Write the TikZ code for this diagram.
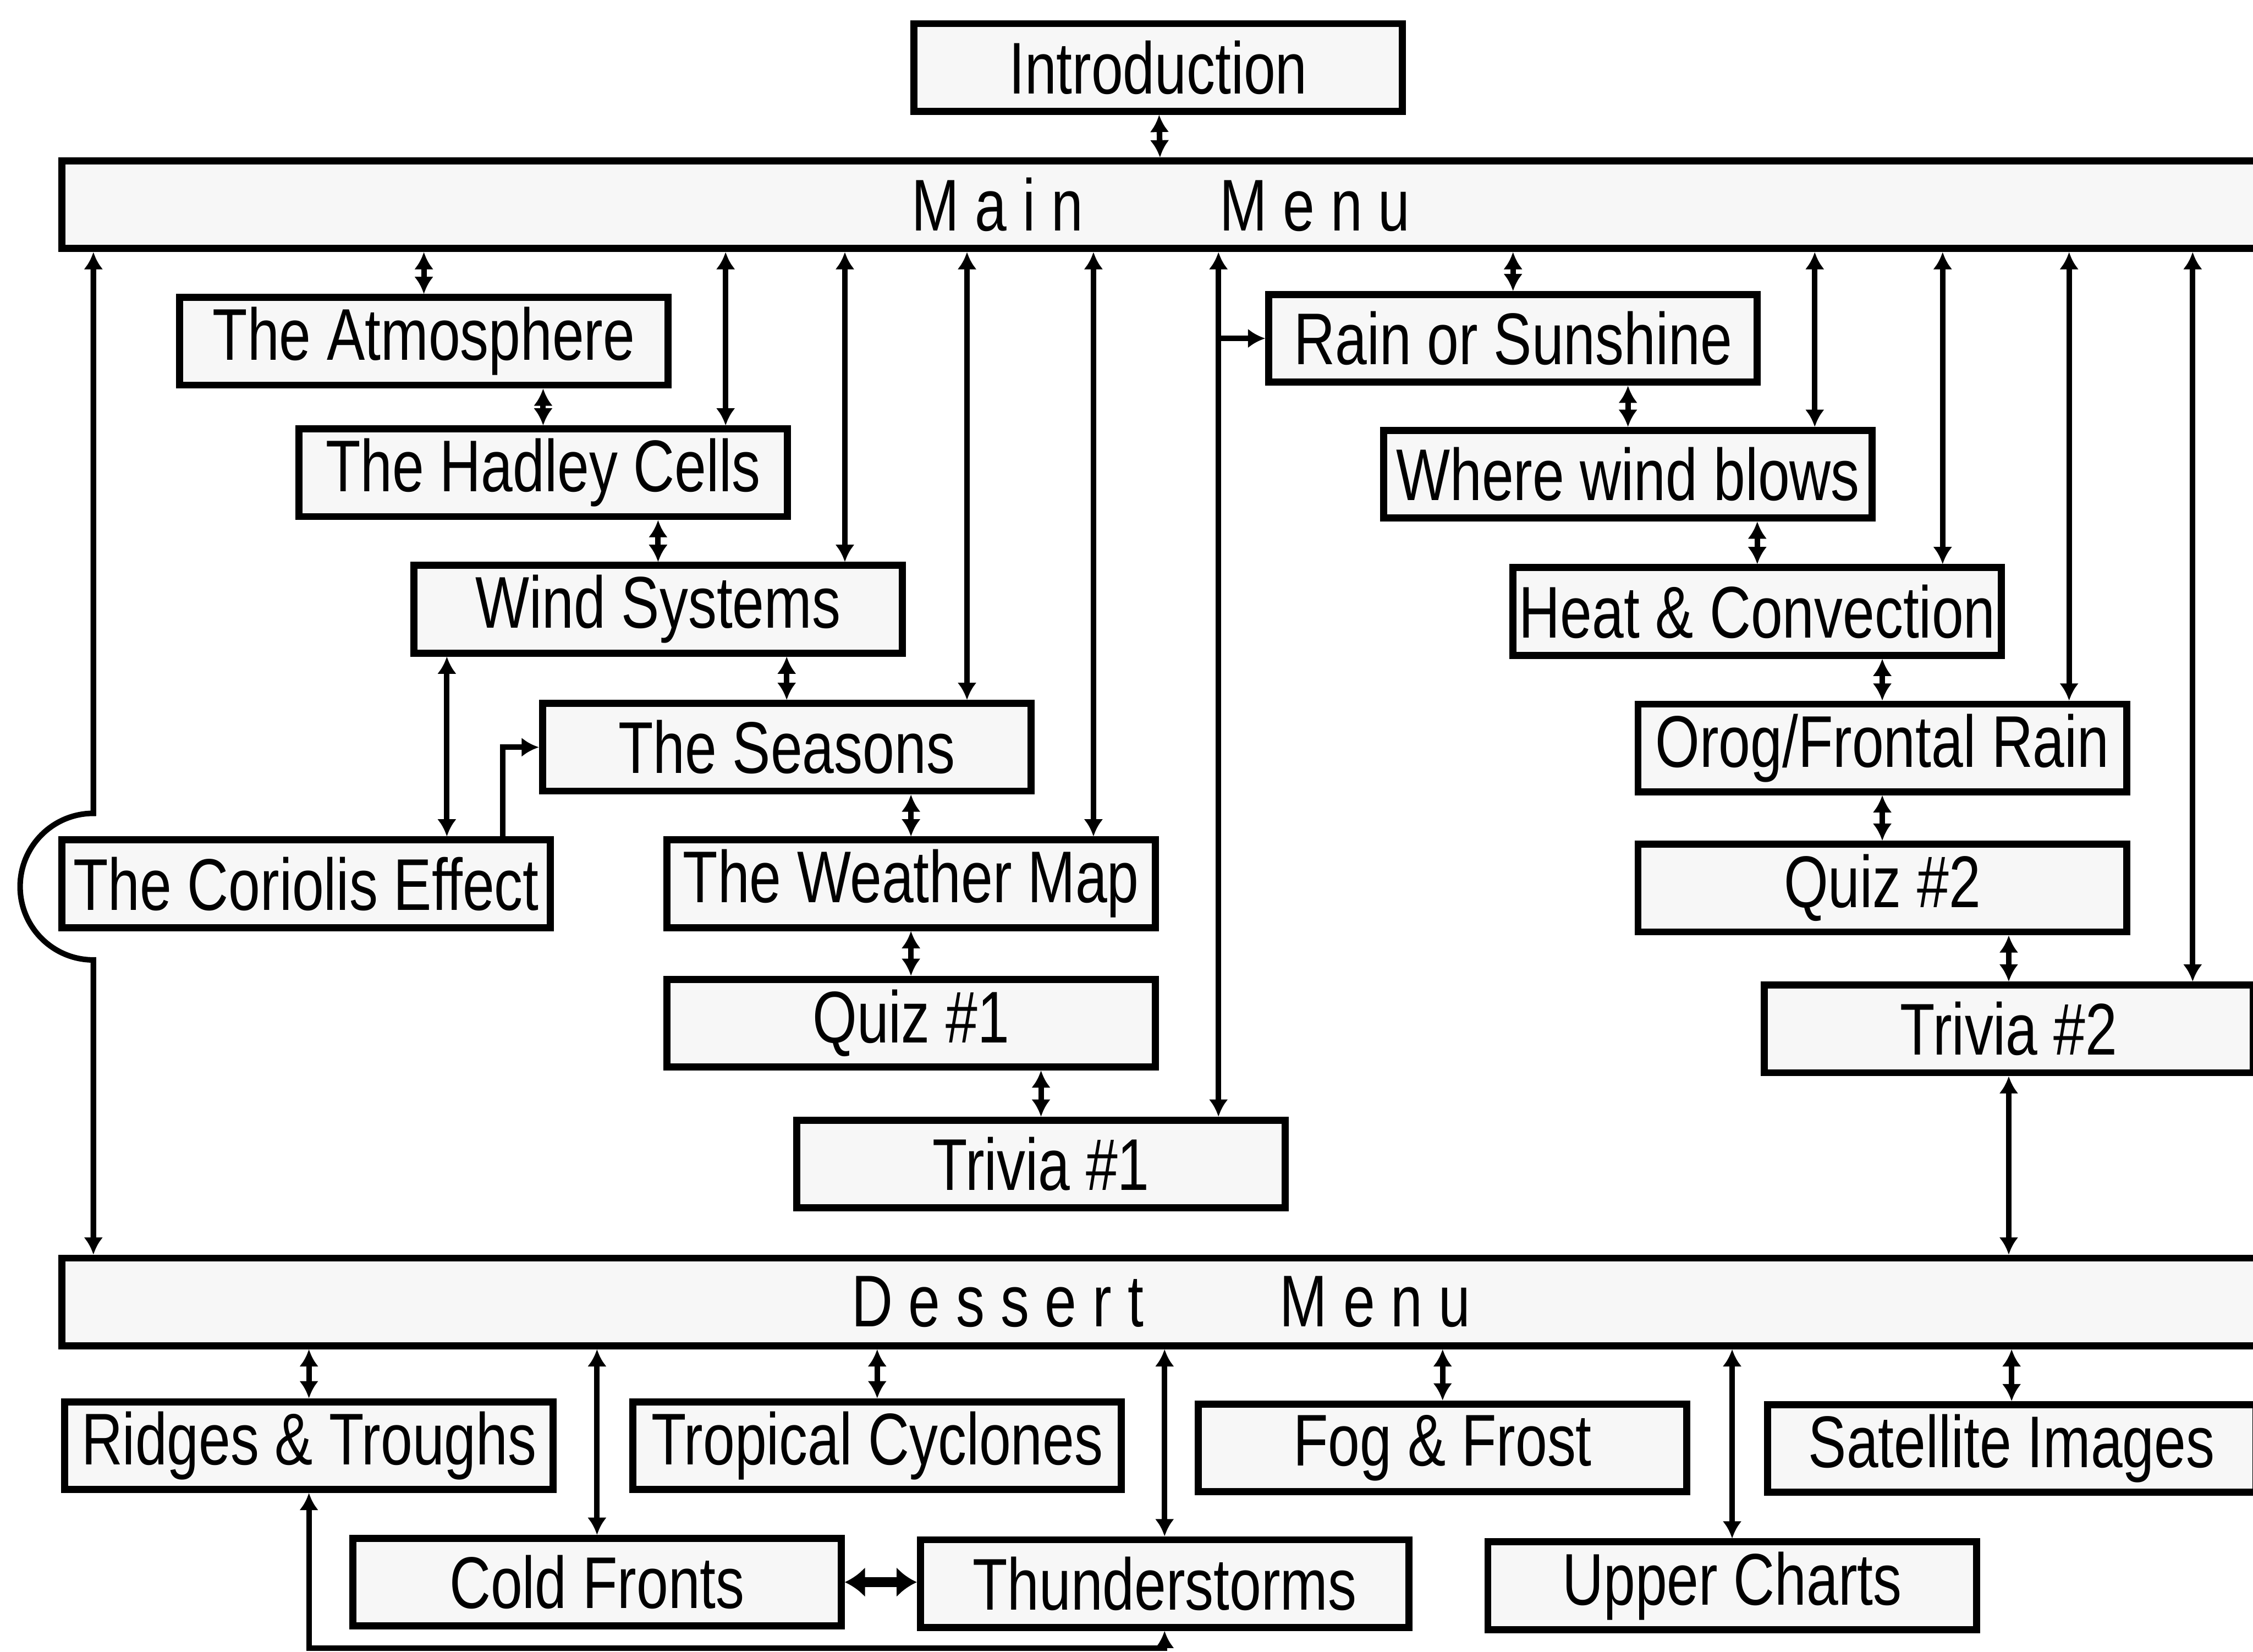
\documentclass[tikz,border=0pt]{standalone}
\usepackage{fontspec}
\setmainfont{Liberation Sans}[FakeStretch=0.78]
\usetikzlibrary{arrows.meta}

\tikzset{
  topic/.style={draw=black, line width=1.4pt, fill=black!3, minimum width=34mm, minimum height=6.1mm,
    inner xsep=0pt, inner ysep=0pt, font=\fontsize{14.5}{16}\selectfont},
  menubar/.style={topic, minimum width=153mm},
  link/.style={line width=1.1pt, {Latex[length=3.4pt,width=3.8pt]}-{Latex[length=3.4pt,width=3.8pt]}},
  oneway/.style={line width=1.1pt, -{Latex[length=3.4pt,width=3.8pt]}},
}

\begin{document}
\begin{tikzpicture}[x=0.1mm,y=-0.1mm]
\useasboundingbox (0,0) rectangle (1568,1149.6);
\fill[white] (0,0) rectangle (1568,1149.6);
\clip (0,0) rectangle (1568,1149.6);

\node[topic] (intro) at (806,47) {Introduction};
\node[menubar] (main) at (808,142.5) {M a i n\hspace{9.5mm}M e n u};

\node[topic] (atmos) at (295,237.5) {The Atmosphere};
\node[topic] (hadley) at (378,329) {The Hadley Cells};
\node[topic] (wind) at (458,424) {Wind Systems};
\node[topic] (seasons) at (547.5,520) {The Seasons};
\node[topic] (coriolis) at (213,615) {The Coriolis Effect};
\node[topic] (weather) at (634,615) {The Weather Map};
\node[topic] (quiz1) at (634,712) {Quiz \#1};
\node[topic] (trivia1) at (724.5,810) {Trivia \#1};

\node[topic] (rain) at (1053,235.5) {Rain or Sunshine};
\node[topic] (where) at (1133,330) {Where wind blows};
\node[topic] (heat) at (1223,425.5) {Heat \& Convection};
\node[topic] (orog) at (1310,520.5) {Orog/Frontal Rain};
\node[topic] (quiz2) at (1310,618) {Quiz \#2};
\node[topic] (trivia2) at (1398,716) {Trivia \#2};

\node[menubar] (dessert) at (808,906) {D e s s e r t\hspace{9.5mm}M e n u};

\node[topic] (ridges) at (215,1006) {Ridges \& Troughs};
\node[topic] (tropical) at (610.5,1006) {Tropical Cyclones};
\node[topic] (fog) at (1004,1007.5) {Fog \& Frost};
\node[topic] (satellite) at (1400,1008) {Satellite Images};
\node[topic] (cold) at (415.5,1101) {Cold Fronts};
\node[topic] (thunder) at (810.5,1102) {Thunderstorms};
\node[topic] (upper) at (1205.5,1103.5) {Upper Charts};

\draw[link] (intro) -- (main);

\draw[link] (main.south -| 65,0) -- (65,566) arc[start angle=90, end angle=270, radius=5.1mm]
  -- (dessert.north -| 65,0);
\draw[link] (main.south -| atmos.north) -- (atmos.north);
\draw[link] (main.south -| 505,0) -- (hadley.north -| 505,0);
\draw[link] (main.south -| 588,0) -- (wind.north -| 588,0);
\draw[link] (main.south -| 673,0) -- (seasons.north -| 673,0);
\draw[link] (main.south -| 761,0) -- (weather.north -| 761,0);
\draw[link] (main.south -| 848,0) -- (trivia1.north -| 848,0);
\draw[oneway] (rain.west -| 848,0) -- (rain.west);
\draw[link] (main.south -| rain.north) -- (rain.north);
\draw[link] (main.south -| 1263,0) -- (where.north -| 1263,0);
\draw[link] (main.south -| 1352,0) -- (heat.north -| 1352,0);
\draw[link] (main.south -| 1440,0) -- (orog.north -| 1440,0);
\draw[link] (main.south -| 1526,0) -- (trivia2.north -| 1526,0);

\draw[link] (atmos.south -| hadley.north) -- (hadley.north);
\draw[link] (hadley.south -| wind.north) -- (wind.north);
\draw[link] (wind.south -| seasons.north) -- (seasons.north);
\draw[link] (seasons.south -| weather.north) -- (weather.north);
\draw[link] (weather) -- (quiz1);
\draw[link] (quiz1.south -| trivia1.north) -- (trivia1.north);
\draw[link] (wind.south -| 311,0) -- (coriolis.north -| 311,0);
\draw[oneway] (coriolis.north -| 350,0) |- (seasons.west);

\draw[link] (rain.south -| where.north) -- (where.north);
\draw[link] (where.south -| heat.north) -- (heat.north);
\draw[link] (heat.south -| orog.north) -- (orog.north);
\draw[link] (orog) -- (quiz2);
\draw[link] (quiz2.south -| trivia2.north) -- (trivia2.north);
\draw[link] (trivia2.south) -- (trivia2.south |- dessert.north);

\draw[link] (dessert.south -| ridges.north) -- (ridges.north);
\draw[link] (dessert.south -| cold.north) -- (cold.north);
\draw[link] (dessert.south -| tropical.north) -- (tropical.north);
\draw[link] (dessert.south -| thunder.north) -- (thunder.north);
\draw[link] (dessert.south -| fog.north) -- (fog.north);
\draw[link] (dessert.south -| upper.north) -- (upper.north);
\draw[link] (dessert.south -| satellite.north) -- (satellite.north);
\draw[line width=2pt, {Latex[length=4pt,width=6pt]}-{Latex[length=4pt,width=6pt]}]
  (cold.east) -- (cold.east -| thunder.west);
\draw[link] (ridges.south) -- (ridges.south |- 0,1147) -| (thunder.south);
\end{tikzpicture}
\end{document}
